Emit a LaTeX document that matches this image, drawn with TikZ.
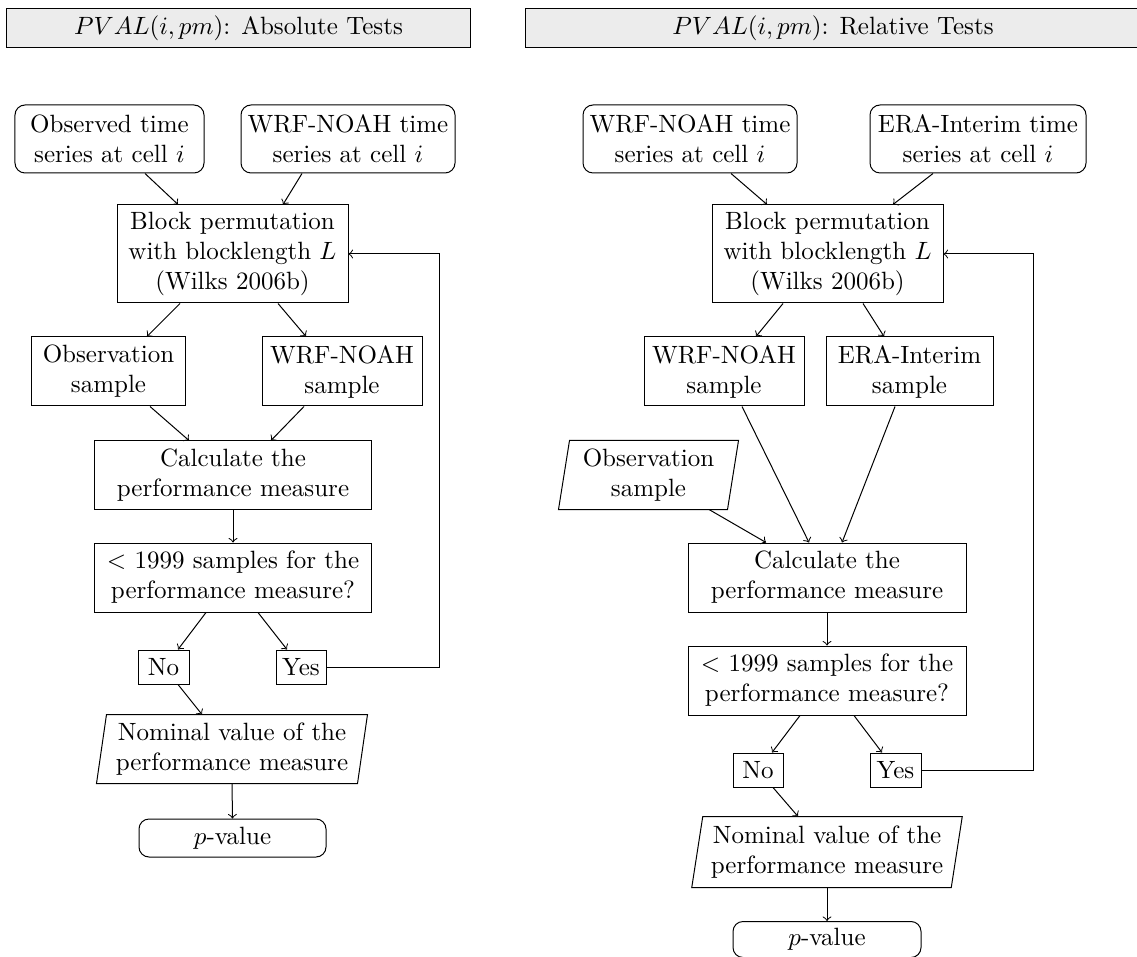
\documentclass[tikz,border=0pt]{standalone}
\usetikzlibrary{calc}
\begin{document}
\begin{tikzpicture}[x=0.4pt,y=-0.4pt,
  box/.style={draw, rectangle, align=center, inner sep=0pt},
  rbox/.style={box, rounded corners=4pt},
  hdr/.style={draw, fill=gray!15, inner sep=0pt, minimum height=15.6pt},
  para/.style={draw=none, rectangle, align=center, inner sep=0pt},
  arr/.style={->}]
\clip (0,0) rectangle (1137,957);
\useasboundingbox (0,0) rectangle (1137,957);
% headers
\node[hdr, minimum width=185.2pt] (hdrL) at (238.5,28.5) {$PVAL(i,pm)$: Absolute Tests};
\node[hdr, minimum width=246.4pt] (hdrR) at (833,28.5) {$PVAL(i,pm)$: Relative Tests};

% ---------------- left: absolute tests
\node[rbox, minimum width=75.6pt, minimum height=27.2pt] (obsTS) at (109.5,139) {Observed time\\series at cell $i$};
\node[rbox, minimum width=85.6pt, minimum height=27.2pt] (wrfTSL) at (348,139) {WRF-NOAH time\\series at cell $i$};
\node[box, minimum width=92.4pt, minimum height=39.2pt] (blockL) at (232.5,254) {Block permutation\\with blocklength $L$\\(Wilks 2006b)};
\node[box, minimum width=61.2pt, minimum height=27.6pt] (obsSL) at (108.5,371.5) {Observation\\sample};
\node[box, minimum width=64pt, minimum height=27.6pt] (wrfSL) at (342,371.5) {WRF-NOAH\\sample};
\node[box, minimum width=110.4pt, minimum height=27.2pt] (calcL) at (233,475) {Calculate the\\performance measure};
\node[box, minimum width=110.4pt, minimum height=27.6pt] (ltL) at (233,577.5) {$<$ 1999 samples for the\\performance measure?};
\node[box, minimum width=20.4pt, minimum height=13.6pt] (noL) at (163.5,667) {No};
\node[box, minimum width=20pt, minimum height=13.6pt] (yesL) at (301,667) {Yes};
\node[para, minimum width=104pt, minimum height=27.2pt] (nomL) at (232,749) {Nominal value of the\\performance measure};
\draw ($(nomL.south west)+(-5,0)$) -- ($(nomL.south east)+(-5,0)$) -- ($(nomL.north east)+(5,0)$) -- ($(nomL.north west)+(5,0)$) -- cycle;
\node[rbox, minimum width=74.8pt, minimum height=15.2pt] (pvalL) at (232.5,838) {$p$-value};
\coordinate (loopL) at (439,667);

\draw[arr] ($(obsTS.south)+(35.5,0)$) -- ($(blockL.north)+(-54.5,0)$);
\draw[arr] ($(wrfTSL.south)+(-46,0)$) -- ($(blockL.north)+(50.5,0)$);
\draw[arr] ($(blockL.south)+(-52.5,0)$) -- ($(obsSL.north)+(38.5,0)$);
\draw[arr] ($(blockL.south)+(45.5,0)$) -- ($(wrfSL.north)+(-36,0)$);
\draw[arr] ($(obsSL.south)+(41.5,0)$) -- ($(calcL.north)+(-44,0)$);
\draw[arr] ($(wrfSL.south)+(-38,0)$) -- ($(calcL.north)+(38,0)$);
\draw[arr] (calcL.south) -- (ltL.north);
\draw[arr] ($(ltL.south)+(-27,0)$) -- ($(noL.north)+(14.5,0)$);
\draw[arr] ($(ltL.south)+(25,0)$) -- ($(yesL.north)+(-14,0)$);
\draw[arr] ($(noL.south)+(14.5,0)$) -- ($(nomL.north)+(-30,0)$);
\draw[arr] (nomL.south) -- (pvalL.north);
\draw[arr] (yesL.east) -- (loopL) |- (blockL.east);

% ---------------- right: relative tests
\node[rbox, minimum width=85.6pt, minimum height=27.2pt] (wrfTSR) at (690,139) {WRF-NOAH time\\series at cell $i$};
\node[rbox, minimum width=86.4pt, minimum height=27.2pt] (eraTS) at (978,139) {ERA-Interim time\\series at cell $i$};
\node[box, minimum width=92.4pt, minimum height=39.2pt] (blockR) at (827.5,254) {Block permutation\\with blocklength $L$\\(Wilks 2006b)};
\node[box, minimum width=64pt, minimum height=27.6pt] (wrfSR) at (724,371.5) {WRF-NOAH\\sample};
\node[box, minimum width=66.8pt, minimum height=27.6pt] (eraS) at (909.5,371.5) {ERA-Interim\\sample};
\node[para, minimum width=67.2pt, minimum height=27.2pt] (obsSR) at (648.5,475) {Observation\\sample};
\draw ($(obsSR.south west)+(-5.5,0)$) -- ($(obsSR.south east)+(-5.5,0)$) -- ($(obsSR.north east)+(5.5,0)$) -- ($(obsSR.north west)+(5.5,0)$) -- cycle;
\node[box, minimum width=111.2pt, minimum height=27.6pt] (calcR) at (827,577.5) {Calculate the\\performance measure};
\node[box, minimum width=111.2pt, minimum height=27.6pt] (ltR) at (827,680.5) {$<$ 1999 samples for the\\performance measure?};
\node[box, minimum width=20pt, minimum height=13.6pt] (noR) at (758,770) {No};
\node[box, minimum width=20.4pt, minimum height=13.6pt] (yesR) at (895.5,770) {Yes};
\node[para, minimum width=103.4pt, minimum height=28pt] (nomR) at (827,852) {Nominal value of the\\performance measure};
\draw ($(nomR.south west)+(-5.5,0)$) -- ($(nomR.south east)+(-5.5,0)$) -- ($(nomR.north east)+(5.5,0)$) -- ($(nomR.north west)+(5.5,0)$) -- cycle;
\node[rbox, minimum width=75.2pt, minimum height=14.4pt] (pvalR) at (827,939.5) {$p$-value};
\coordinate (loopR) at (1033,770);

\draw[arr] ($(wrfTSR.south)+(41,0)$) -- ($(blockR.north)+(-60.5,0)$);
\draw[arr] ($(eraTS.south)+(-45,0)$) -- ($(blockR.north)+(65.5,0)$);
\draw[arr] ($(blockR.south)+(-44.5,0)$) -- ($(wrfSR.north)+(32,0)$);
\draw[arr] ($(blockR.south)+(35.5,0)$) -- ($(eraS.north)+(-25.5,0)$);
\draw[arr] ($(wrfSR.south)+(18,0)$) -- ($(calcR.north)+(-18,0)$);
\draw[arr] ($(eraS.south)+(-14.5,0)$) -- ($(calcR.north)+(15,0)$);
\draw[arr] ($(obsSR.south)+(60.5,0)$) -- ($(calcR.north)+(-61,0)$);
\draw[arr] (calcR.south) -- (ltR.north);
\draw[arr] ($(ltR.south)+(-27,0)$) -- ($(noR.north)+(14,0)$);
\draw[arr] ($(ltR.south)+(27,0)$) -- ($(yesR.north)+(-13.5,0)$);
\draw[arr] ($(noR.south)+(15,0)$) -- ($(nomR.north)+(-29,0)$);
\draw[arr] (nomR.south) -- (pvalR.north);
\draw[arr] (yesR.east) -- (loopR) |- (blockR.east);
\end{tikzpicture}
\end{document}
